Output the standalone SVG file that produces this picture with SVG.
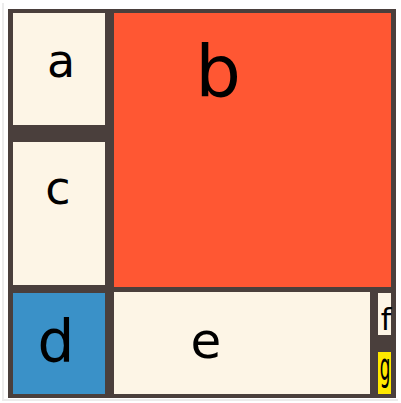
<svg xmlns="http://www.w3.org/2000/svg" width="401" height="403" viewBox="0 0 401 403">
<style>
.cell{stroke:none}
.cream{fill:#fdf5e6}
.lbl{font-family:"DejaVu Sans","Liberation Sans",sans-serif;fill:#000;text-anchor:middle}
</style>
<rect x="0" y="0" width="401" height="403" fill="#ffffff"/>
<rect x="2" y="3" width="2" height="397" fill="#ececec"/>
<rect x="2" y="399" width="396" height="2" fill="#ececec"/>
<g id="frame"><rect x="8" y="9" width="388" height="389" fill="#4a3f3c"/></g>
<g id="node-a"><rect class="cell cream" x="13" y="13" width="92" height="112"/><text class="lbl" x="61" y="77" font-size="46">a</text></g>
<g id="node-b"><rect class="cell" x="114" y="13" width="277" height="274" fill="#ff5733"/><text class="lbl" x="218" y="96" font-size="72">b</text></g>
<g id="node-c"><rect class="cell cream" x="13" y="142" width="92" height="143"/><text class="lbl" x="58" y="204" font-size="46">c</text></g>
<g id="node-d"><rect class="cell" x="13" y="293" width="92" height="101" fill="#3a91c8"/><text class="lbl" x="56" y="362" font-size="58">d</text></g>
<g id="node-e"><rect class="cell cream" x="114" y="292" width="256" height="102"/><text class="lbl" x="206" y="358" font-size="50">e</text></g>
<g id="node-f"><rect class="cell cream" x="378" y="293" width="13" height="42"/><text class="lbl" x="386" y="330" font-size="30">f</text></g>
<g id="node-g"><rect class="cell" x="378" y="352" width="13" height="42" fill="#ffe800"/><text class="lbl" x="0" y="0" font-size="24" transform="translate(385 380) scale(0.7 1.6)">g</text></g>
</svg>
